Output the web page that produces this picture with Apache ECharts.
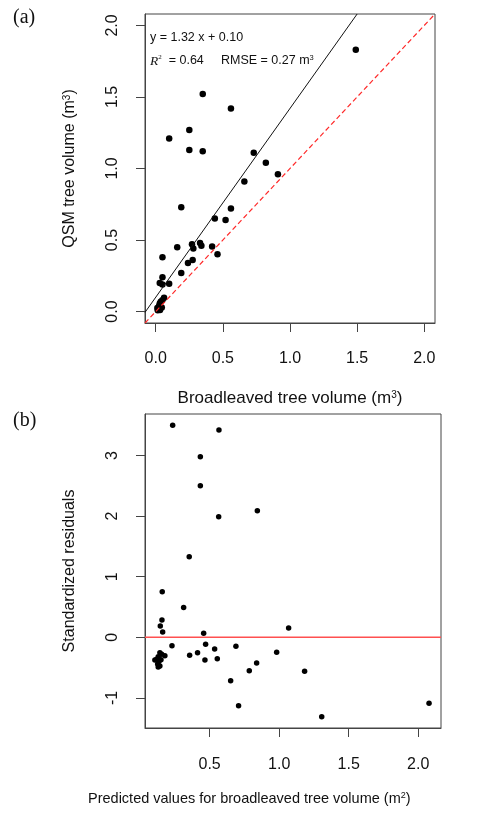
<!DOCTYPE html>
<html><head><meta charset="utf-8">
<script src="https://cdn.jsdelivr.net/npm/echarts@6/dist/echarts.min.js"></script>
<style>html,body{margin:0;padding:0;background:#fff}#c{width:502px;height:814px}</style>
</head><body><div id="c"></div>
<script>
// ---- Panel (a): Broadleaved (reference) vs QSM tree volume (m3)
const broadleavedVolume = [1.49,0.35,0.56,0.25,0.10,0.25,0.35,0.73,0.82,0.91,0.66,0.19,0.56,0.44,0.52,0.16,0.27,0.28,0.33,0.34,0.42,0.46,0.05,0.275,0.24,0.19,0.05,0.03,0.05,0.10,
  0.062,0.049,0.037,0.030,0.025,0.020,0.032,0.015,0.045,0.012];
const qsmVolume = [1.83,1.52,1.42,1.27,1.21,1.13,1.12,1.11,1.04,0.96,0.91,0.73,0.72,0.65,0.64,0.45,0.47,0.44,0.48,0.46,0.455,0.40,0.38,0.36,0.34,0.27,0.24,0.20,0.19,0.195,
  0.097,0.079,0.069,0.056,0.039,0.023,0.011,0.009,0.028,0.025];
const fitSlope = 1.32;
const fitIntercept = 0.10;
const ticksA = [0, 0.5, 1, 1.5, 2];

// ---- Panel (b): predicted values vs standardized residuals
const predictedVolume = [0.234,0.567,0.433,0.433,0.843,0.565,0.353,0.159,0.313,0.157,0.145,0.162,0.457,1.068,0.229,0.471,0.536,0.689,0.413,0.356,0.555,0.466,0.982,0.838,0.785,1.183,0.651,0.708,1.306,2.078,0.178,
  0.142,0.155,0.130,0.119,0.106,0.135,0.126,0.142,0.130,0.150];
const standardizedResiduals = [3.50,3.42,2.98,2.50,2.09,1.99,1.33,0.75,0.49,0.285,0.186,0.087,0.066,0.153,-0.138,-0.116,-0.193,-0.149,-0.254,-0.297,-0.353,-0.375,-0.248,-0.424,-0.551,-0.561,-0.716,-1.128,-1.31,-1.09,-0.303,
  -0.254,-0.28,-0.32,-0.363,-0.375,-0.40,-0.44,-0.474,-0.49,-0.37];
const ticksBx = [0.5, 1, 1.5, 2];
const ticksBy = [-1, 0, 1, 2, 3];

const FONT = 'Liberation Sans';
const A = {xmin:-0.08, xmax:2.08, ymin:-0.08, ymax:2.08};
const B = {xmin:0.035, xmax:2.164, ymin:-1.497, ymax:3.685};

const fmt1 = v => v.toFixed(1);

function tick(ticks){ return {show:true, inside:false, length:9, customValues:ticks, lineStyle:{color:'#444', width:1}}; }

function xAx(grid, r, ticks, fmt, name, gap, margin){
  return {type:'value', gridIndex:grid, min:r.xmin, max:r.xmax, position:'bottom',
    axisLine:{show:true, onZero:false, lineStyle:{color:'#444', width:1}}, splitLine:{show:false},
    axisTick:tick(ticks),
    axisLabel:{customValues:ticks, inside:false, formatter:fmt, fontSize:16, fontFamily:FONT, color:'#111', margin:margin},
    name:name, nameLocation:'middle', nameGap:gap,
    nameTextStyle:{fontSize:17, fontFamily:FONT, color:'#111',
      rich:{sup:{fontSize:10, fontFamily:FONT, color:'#111', verticalAlign:'top'}}}};
}
function yAx(grid, r, ticks, fmt, name){
  return {type:'value', gridIndex:grid, min:r.ymin, max:r.ymax, position:'left',
    axisLine:{show:true, onZero:false, lineStyle:{color:'#444', width:1}}, splitLine:{show:false},
    axisTick:tick(ticks),
    axisLabel:{customValues:ticks, inside:false, formatter:fmt, rotate:90, fontSize:16, fontFamily:FONT, color:'#111', margin:24},
    name:name, nameLocation:'middle', nameGap:67, nameRotate:90,
    nameTextStyle:{fontSize:16, fontFamily:FONT, color:'#111',
      rich:{sup:{fontSize:10, fontFamily:FONT, color:'#111', verticalAlign:'top'}}}};
}

const fitLine = [[A.xmin, fitSlope*A.xmin + fitIntercept], [(A.ymax - fitIntercept)/fitSlope, A.ymax]];
const oneToOne = [[A.xmin, A.ymin], [A.xmax, A.ymax]];
const zeroLine = [[B.xmin, 0], [B.xmax, 0]];

const chart = echarts.init(document.getElementById('c'), null, {renderer:'canvas'});
chart.setOption({
  animation:false,
  backgroundColor:'#fff',
  grid:[
    {left:145, top:14, width:290, height:309, show:true, borderColor:'#444', borderWidth:1, backgroundColor:'transparent', containLabel:false, outerBoundsMode:'none'},
    {left:145, top:414, width:296, height:314, show:true, borderColor:'#444', borderWidth:1, backgroundColor:'transparent', containLabel:false, outerBoundsMode:'none'}
  ],
  xAxis:[
    xAx(0, A, ticksA, fmt1, 'Broadleaved tree volume (m{sup|3})', 67, 28),
    xAx(1, B, ticksBx, fmt1, '', 60, 29)
  ],
  yAxis:[
    yAx(0, A, ticksA, fmt1, 'QSM tree volume (m{sup|3})'),
    yAx(1, B, ticksBy, v => String(v), 'Standardized residuals')
  ],
  graphic:[
    {type:'text', left:13, top:8, style:{text:'(a)', font:'20px "Liberation Serif"', fill:'#111'}},
    {type:'text', left:13, top:411, style:{text:'(b)', font:'20px "Liberation Serif"', fill:'#111'}},
    {type:'text', left:150, top:31, style:{text:'y = 1.32 x + 0.10', font:'12.5px "Liberation Sans"', fill:'#111'}},
    {type:'text', left:150, top:54, style:{text:'{it|R}{sup|2}  = 0.64', font:'12.5px "Liberation Sans"', fill:'#111',
      rich:{it:{fontFamily:'Liberation Serif', fontStyle:'italic', fontSize:13.5, fill:'#111'}, sup:{fontSize:7, fontFamily:'Liberation Serif', verticalAlign:'top', fill:'#111'}}}},
    {type:'text', left:221, top:54, style:{text:'RMSE = 0.27 m{sup|3}', font:'12.5px "Liberation Sans"', fill:'#111',
      rich:{sup:{fontSize:7.5, fontFamily:FONT, verticalAlign:'top', fill:'#111'}}}},
    {type:'text', left:88, top:791, style:{text:'Predicted values for broadleaved tree volume (m{sup|2})', font:'14.5px "Liberation Sans"', fill:'#111',
      rich:{sup:{fontSize:9, fontFamily:FONT, verticalAlign:'top', fill:'#111'}}}}
  ],
  series:[
    {type:'scatter', xAxisIndex:0, yAxisIndex:0, symbolSize:6.5, itemStyle:{color:'#000', opacity:1},
      data:broadleavedVolume.map((x,i)=>[x, qsmVolume[i]])},
    {type:'line', xAxisIndex:0, yAxisIndex:0, data:fitLine, symbol:'none', clip:true,
      lineStyle:{color:'#111', width:1}},
    {type:'line', xAxisIndex:0, yAxisIndex:0, data:oneToOne, symbol:'none', clip:true,
      lineStyle:{color:'#ff2a2a', width:1.2, type:[5,3]}},
    {type:'scatter', xAxisIndex:1, yAxisIndex:1, symbolSize:5.5, itemStyle:{color:'#000', opacity:1},
      data:predictedVolume.map((x,i)=>[x, standardizedResiduals[i]])},
    {type:'line', xAxisIndex:1, yAxisIndex:1, data:zeroLine, symbol:'none', clip:true,
      lineStyle:{color:'#ff5050', width:1.6}}
  ]
});
</script></body></html>
